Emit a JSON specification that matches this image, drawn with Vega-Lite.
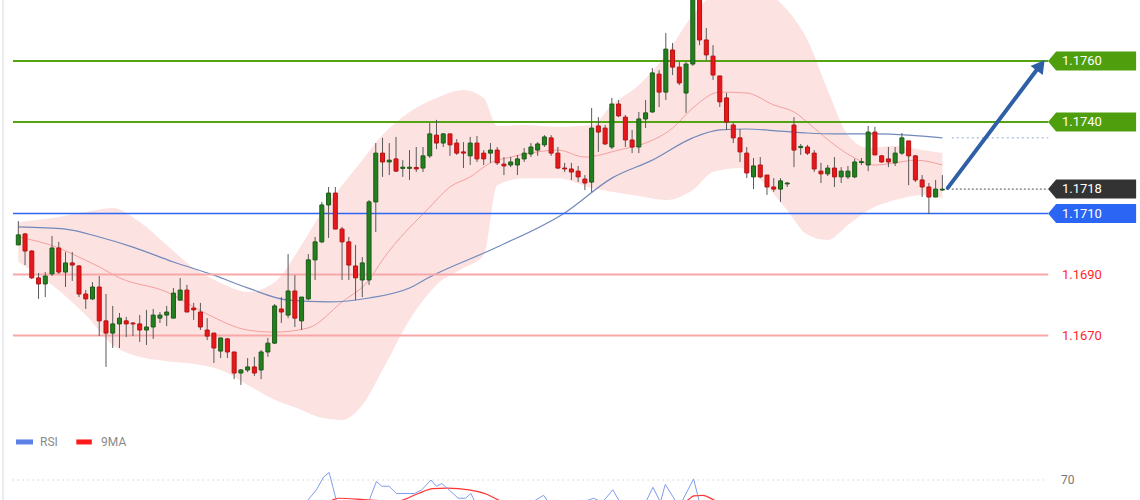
{
  "$schema": "https://vega.github.io/schema/vega-lite/v6.json",
  "background": "white",
  "padding": 0,
  "autosize": {"type": "none"},
  "width": 1140,
  "height": 500,
  "config": {"view": {"stroke": null}, "font": "Roboto", "scale": {"continuousPadding": 0}},
  "resolve": {"scale": {"y": "independent"}},
  "datasets": {
    "candles": [
      {"i":0,"o":1.16997,"h":1.17075,"l":1.16997,"c":1.17030},
      {"i":1,"o":1.17033,"h":1.17036,"l":1.16931,"c":1.16977},
      {"i":2,"o":1.16977,"h":1.16980,"l":1.16885,"c":1.16889},
      {"i":3,"o":1.16889,"h":1.16905,"l":1.16820,"c":1.16869},
      {"i":4,"o":1.16869,"h":1.16908,"l":1.16826,"c":1.16895},
      {"i":5,"o":1.16902,"h":1.17026,"l":1.16895,"c":1.16987},
      {"i":6,"o":1.16987,"h":1.17007,"l":1.16902,"c":1.16908},
      {"i":7,"o":1.16908,"h":1.16974,"l":1.16859,"c":1.16938},
      {"i":8,"o":1.16938,"h":1.16974,"l":1.16879,"c":1.16931},
      {"i":9,"o":1.16928,"h":1.16931,"l":1.16826,"c":1.16836},
      {"i":10,"o":1.16836,"h":1.16849,"l":1.16787,"c":1.16820},
      {"i":11,"o":1.16820,"h":1.16875,"l":1.16816,"c":1.16859},
      {"i":12,"o":1.16859,"h":1.16895,"l":1.16698,"c":1.16748},
      {"i":13,"o":1.16748,"h":1.16836,"l":1.16597,"c":1.16708},
      {"i":14,"o":1.16708,"h":1.16797,"l":1.16659,"c":1.16738},
      {"i":15,"o":1.16738,"h":1.16774,"l":1.16659,"c":1.16757},
      {"i":16,"o":1.16748,"h":1.16761,"l":1.16695,"c":1.16738},
      {"i":17,"o":1.16741,"h":1.16744,"l":1.16698,"c":1.16738},
      {"i":18,"o":1.16738,"h":1.16767,"l":1.16679,"c":1.16718},
      {"i":19,"o":1.16718,"h":1.16784,"l":1.16669,"c":1.16728},
      {"i":20,"o":1.16728,"h":1.16787,"l":1.16689,"c":1.16767},
      {"i":21,"o":1.16757,"h":1.16777,"l":1.16741,"c":1.16767},
      {"i":22,"o":1.16767,"h":1.16797,"l":1.16731,"c":1.16777},
      {"i":23,"o":1.16757,"h":1.16856,"l":1.16757,"c":1.16839},
      {"i":24,"o":1.16816,"h":1.16889,"l":1.16816,"c":1.16849},
      {"i":25,"o":1.16849,"h":1.16866,"l":1.16777,"c":1.16777},
      {"i":26,"o":1.16790,"h":1.16807,"l":1.16751,"c":1.16784},
      {"i":27,"o":1.16777,"h":1.16807,"l":1.16718,"c":1.16728},
      {"i":28,"o":1.16718,"h":1.16757,"l":1.16685,"c":1.16698},
      {"i":29,"o":1.16708,"h":1.16708,"l":1.16610,"c":1.16659},
      {"i":30,"o":1.16649,"h":1.16692,"l":1.16626,"c":1.16692},
      {"i":31,"o":1.16689,"h":1.16692,"l":1.16626,"c":1.16646},
      {"i":32,"o":1.16646,"h":1.16646,"l":1.16557,"c":1.16577},
      {"i":33,"o":1.16577,"h":1.16590,"l":1.16538,"c":1.16587},
      {"i":34,"o":1.16587,"h":1.16626,"l":1.16580,"c":1.16597},
      {"i":35,"o":1.16597,"h":1.16630,"l":1.16567,"c":1.16577},
      {"i":36,"o":1.16587,"h":1.16652,"l":1.16557,"c":1.16646},
      {"i":37,"o":1.16646,"h":1.16692,"l":1.16630,"c":1.16675},
      {"i":38,"o":1.16675,"h":1.16803,"l":1.16672,"c":1.16797},
      {"i":39,"o":1.16787,"h":1.16826,"l":1.16741,"c":1.16777},
      {"i":40,"o":1.16767,"h":1.16967,"l":1.16757,"c":1.16846},
      {"i":41,"o":1.16846,"h":1.16898,"l":1.16728,"c":1.16757},
      {"i":42,"o":1.16748,"h":1.16826,"l":1.16718,"c":1.16826},
      {"i":43,"o":1.16820,"h":1.16967,"l":1.16816,"c":1.16948},
      {"i":44,"o":1.16948,"h":1.17023,"l":1.16882,"c":1.17007},
      {"i":45,"o":1.17007,"h":1.17138,"l":1.17003,"c":1.17128},
      {"i":46,"o":1.17128,"h":1.17187,"l":1.17020,"c":1.17167},
      {"i":47,"o":1.17167,"h":1.17187,"l":1.17049,"c":1.17049},
      {"i":48,"o":1.17049,"h":1.17056,"l":1.16882,"c":1.17007},
      {"i":49,"o":1.17007,"h":1.17023,"l":1.16882,"c":1.16931},
      {"i":50,"o":1.16928,"h":1.16997,"l":1.16816,"c":1.16889},
      {"i":51,"o":1.16882,"h":1.16957,"l":1.16826,"c":1.16938},
      {"i":52,"o":1.16882,"h":1.17144,"l":1.16866,"c":1.17138},
      {"i":53,"o":1.17138,"h":1.17331,"l":1.17039,"c":1.17298},
      {"i":54,"o":1.17298,"h":1.17348,"l":1.17220,"c":1.17269},
      {"i":55,"o":1.17269,"h":1.17331,"l":1.17226,"c":1.17275},
      {"i":56,"o":1.17279,"h":1.17351,"l":1.17236,"c":1.17239},
      {"i":57,"o":1.17248,"h":1.17275,"l":1.17220,"c":1.17252},
      {"i":58,"o":1.17248,"h":1.17308,"l":1.17210,"c":1.17252},
      {"i":59,"o":1.17251,"h":1.17318,"l":1.17236,"c":1.17246},
      {"i":60,"o":1.17249,"h":1.17318,"l":1.17236,"c":1.17289},
      {"i":61,"o":1.17289,"h":1.17397,"l":1.17282,"c":1.17361},
      {"i":62,"o":1.17357,"h":1.17407,"l":1.17311,"c":1.17331},
      {"i":63,"o":1.17331,"h":1.17364,"l":1.17318,"c":1.17361},
      {"i":64,"o":1.17361,"h":1.17361,"l":1.17289,"c":1.17325},
      {"i":65,"o":1.17331,"h":1.17344,"l":1.17292,"c":1.17298},
      {"i":66,"o":1.17302,"h":1.17334,"l":1.17249,"c":1.17298},
      {"i":67,"o":1.17289,"h":1.17351,"l":1.17259,"c":1.17331},
      {"i":68,"o":1.17331,"h":1.17354,"l":1.17269,"c":1.17279},
      {"i":69,"o":1.17298,"h":1.17308,"l":1.17259,"c":1.17279},
      {"i":70,"o":1.17298,"h":1.17331,"l":1.17266,"c":1.17308},
      {"i":71,"o":1.17308,"h":1.17318,"l":1.17259,"c":1.17266},
      {"i":72,"o":1.17262,"h":1.17285,"l":1.17226,"c":1.17256},
      {"i":73,"o":1.17259,"h":1.17285,"l":1.17252,"c":1.17269},
      {"i":74,"o":1.17259,"h":1.17292,"l":1.17226,"c":1.17279},
      {"i":75,"o":1.17279,"h":1.17315,"l":1.17269,"c":1.17298},
      {"i":76,"o":1.17295,"h":1.17331,"l":1.17285,"c":1.17318},
      {"i":77,"o":1.17308,"h":1.17334,"l":1.17289,"c":1.17328},
      {"i":78,"o":1.17325,"h":1.17357,"l":1.17318,"c":1.17351},
      {"i":79,"o":1.17348,"h":1.17357,"l":1.17289,"c":1.17298},
      {"i":80,"o":1.17298,"h":1.17318,"l":1.17246,"c":1.17249},
      {"i":81,"o":1.17249,"h":1.17266,"l":1.17236,"c":1.17246},
      {"i":82,"o":1.17246,"h":1.17266,"l":1.17210,"c":1.17236},
      {"i":83,"o":1.17239,"h":1.17256,"l":1.17203,"c":1.17220},
      {"i":84,"o":1.17213,"h":1.17226,"l":1.17177,"c":1.17200},
      {"i":85,"o":1.17203,"h":1.17446,"l":1.17171,"c":1.17380},
      {"i":86,"o":1.17387,"h":1.17416,"l":1.17302,"c":1.17367},
      {"i":87,"o":1.17380,"h":1.17390,"l":1.17325,"c":1.17328},
      {"i":88,"o":1.17318,"h":1.17479,"l":1.17311,"c":1.17459},
      {"i":89,"o":1.17459,"h":1.17472,"l":1.17416,"c":1.17420},
      {"i":90,"o":1.17416,"h":1.17423,"l":1.17318,"c":1.17341},
      {"i":91,"o":1.17341,"h":1.17374,"l":1.17298,"c":1.17318},
      {"i":92,"o":1.17318,"h":1.17433,"l":1.17298,"c":1.17410},
      {"i":93,"o":1.17410,"h":1.17472,"l":1.17380,"c":1.17430},
      {"i":94,"o":1.17433,"h":1.17577,"l":1.17430,"c":1.17561},
      {"i":95,"o":1.17557,"h":1.17570,"l":1.17449,"c":1.17498},
      {"i":96,"o":1.17498,"h":1.17692,"l":1.17472,"c":1.17639},
      {"i":97,"o":1.17636,"h":1.17659,"l":1.17554,"c":1.17580},
      {"i":98,"o":1.17580,"h":1.17597,"l":1.17521,"c":1.17528},
      {"i":99,"o":1.17495,"h":1.17597,"l":1.17430,"c":1.17590},
      {"i":100,"o":1.17590,"h":1.17840,"l":1.17584,"c":1.17812},
      {"i":101,"o":1.17810,"h":1.17830,"l":1.17652,"c":1.17669},
      {"i":102,"o":1.17669,"h":1.17708,"l":1.17603,"c":1.17620},
      {"i":103,"o":1.17616,"h":1.17652,"l":1.17538,"c":1.17554},
      {"i":104,"o":1.17551,"h":1.17551,"l":1.17449,"c":1.17466},
      {"i":105,"o":1.17479,"h":1.17495,"l":1.17374,"c":1.17400},
      {"i":106,"o":1.17390,"h":1.17397,"l":1.17331,"c":1.17348},
      {"i":107,"o":1.17348,"h":1.17377,"l":1.17269,"c":1.17302},
      {"i":108,"o":1.17298,"h":1.17318,"l":1.17216,"c":1.17233},
      {"i":109,"o":1.17220,"h":1.17282,"l":1.17180,"c":1.17256},
      {"i":110,"o":1.17259,"h":1.17285,"l":1.17216,"c":1.17220},
      {"i":111,"o":1.17226,"h":1.17226,"l":1.17161,"c":1.17187},
      {"i":112,"o":1.17187,"h":1.17216,"l":1.17171,"c":1.17180},
      {"i":113,"o":1.17180,"h":1.17216,"l":1.17138,"c":1.17207},
      {"i":114,"o":1.17197,"h":1.17203,"l":1.17187,"c":1.17200},
      {"i":115,"o":1.17390,"h":1.17416,"l":1.17252,"c":1.17308},
      {"i":116,"o":1.17316,"h":1.17328,"l":1.17292,"c":1.17320},
      {"i":117,"o":1.17318,"h":1.17325,"l":1.17292,"c":1.17298},
      {"i":118,"o":1.17298,"h":1.17308,"l":1.17236,"c":1.17246},
      {"i":119,"o":1.17239,"h":1.17266,"l":1.17200,"c":1.17230},
      {"i":120,"o":1.17230,"h":1.17259,"l":1.17223,"c":1.17249},
      {"i":121,"o":1.17249,"h":1.17285,"l":1.17187,"c":1.17220},
      {"i":122,"o":1.17220,"h":1.17252,"l":1.17200,"c":1.17239},
      {"i":123,"o":1.17220,"h":1.17256,"l":1.17213,"c":1.17239},
      {"i":124,"o":1.17220,"h":1.17279,"l":1.17216,"c":1.17269},
      {"i":125,"o":1.17267,"h":1.17282,"l":1.17259,"c":1.17270},
      {"i":126,"o":1.17259,"h":1.17387,"l":1.17239,"c":1.17367},
      {"i":127,"o":1.17367,"h":1.17384,"l":1.17292,"c":1.17292},
      {"i":128,"o":1.17289,"h":1.17292,"l":1.17266,"c":1.17269},
      {"i":129,"o":1.17279,"h":1.17318,"l":1.17252,"c":1.17269},
      {"i":130,"o":1.17266,"h":1.17318,"l":1.17256,"c":1.17298},
      {"i":131,"o":1.17298,"h":1.17364,"l":1.17292,"c":1.17348},
      {"i":132,"o":1.17338,"h":1.17338,"l":1.17193,"c":1.17289},
      {"i":133,"o":1.17289,"h":1.17292,"l":1.17203,"c":1.17210},
      {"i":134,"o":1.17210,"h":1.17226,"l":1.17154,"c":1.17187},
      {"i":135,"o":1.17187,"h":1.17200,"l":1.17098,"c":1.17154},
      {"i":136,"o":1.17154,"h":1.17210,"l":1.17154,"c":1.17180},
      {"i":137,"o":1.17177,"h":1.17226,"l":1.17174,"c":1.17180}
    ],
    "bands": [
      {"i":0,"u":1.17072,"l":1.16941},{"i":5,"u":1.17085,"l":1.16866},{"i":10,"u":1.17105,"l":1.16767},
      {"i":14,"u":1.17118,"l":1.16669},{"i":18,"u":1.17072,"l":1.16630},{"i":22,"u":1.16997,"l":1.16616},
      {"i":26,"u":1.16921,"l":1.16607},{"i":30,"u":1.16872,"l":1.16587},{"i":34,"u":1.16843,"l":1.16538},
      {"i":38,"u":1.16875,"l":1.16489},{"i":42,"u":1.16997,"l":1.16456},{"i":45,"u":1.17105,"l":1.16430},
      {"i":48,"u":1.17193,"l":1.16423},{"i":51,"u":1.17275,"l":1.16472},{"i":54,"u":1.17357,"l":1.16587},
      {"i":58,"u":1.17433,"l":1.16751},{"i":62,"u":1.17479,"l":1.16866},{"i":66,"u":1.17505,"l":1.16921},
      {"i":69,"u":1.17479,"l":1.16964},{"i":71,"u":1.17387,"l":1.17193},{"i":75,"u":1.17390,"l":1.17216},
      {"i":80,"u":1.17384,"l":1.17216},{"i":85,"u":1.17390,"l":1.17184},{"i":88,"u":1.17456,"l":1.17171},
      {"i":92,"u":1.17521,"l":1.17157},{"i":96,"u":1.17620,"l":1.17144},{"i":100,"u":1.17751,"l":1.17177},
      {"i":103,"u":1.17816,"l":1.17236},{"i":107,"u":1.17839,"l":1.17249},{"i":110,"u":1.17833,"l":1.17210},
      {"i":114,"u":1.17767,"l":1.17111},{"i":117,"u":1.17669,"l":1.17030},{"i":120,"u":1.17505,"l":1.17013},
      {"i":123,"u":1.17357,"l":1.17062},{"i":126,"u":1.17315,"l":1.17111},{"i":130,"u":1.17321,"l":1.17144},
      {"i":134,"u":1.17308,"l":1.17161},{"i":137,"u":1.17298,"l":1.17151}
    ],
    "mid": [
      {"i":0,"v":1.17023},{"i":6,"v":1.16987},{"i":9,"v":1.16957},{"i":12,"v":1.16925},{"i":15,"v":1.16889},
      {"i":22,"v":1.16843},{"i":28,"v":1.16770},{"i":34,"v":1.16718},{"i":38,"v":1.16711},{"i":43,"v":1.16725},
      {"i":48,"v":1.16810},{"i":52,"v":1.16882},{"i":54,"v":1.16948},{"i":61,"v":1.17121},{"i":64,"v":1.17187},
      {"i":67,"v":1.17220},{"i":70,"v":1.17266},{"i":73,"v":1.17285},{"i":77,"v":1.17302},{"i":80,"v":1.17308},
      {"i":84,"v":1.17285},{"i":89,"v":1.17308},{"i":93,"v":1.17331},{"i":97,"v":1.17380},{"i":100,"v":1.17446},
      {"i":104,"v":1.17498},{"i":108,"v":1.17495},{"i":112,"v":1.17456},{"i":115,"v":1.17433},{"i":118,"v":1.17380},
      {"i":121,"v":1.17325},{"i":124,"v":1.17282},{"i":127,"v":1.17259},{"i":130,"v":1.17266},{"i":133,"v":1.17275},
      {"i":137,"v":1.17259}
    ],
    "ma": [
      {"i":0,"v":1.17056},{"i":7,"v":1.17049},{"i":12,"v":1.17023},{"i":17,"v":1.16990},{"i":23,"v":1.16941},
      {"i":29,"v":1.16898},{"i":34,"v":1.16856},{"i":40,"v":1.16816},{"i":46,"v":1.16810},{"i":52,"v":1.16823},
      {"i":58,"v":1.16856},{"i":61,"v":1.16892},{"i":71,"v":1.16990},{"i":81,"v":1.17102},{"i":88,"v":1.17216},
      {"i":94,"v":1.17275},{"i":100,"v":1.17348},{"i":104,"v":1.17374},{"i":108,"v":1.17377},{"i":113,"v":1.17370},
      {"i":117,"v":1.17364},{"i":121,"v":1.17361},{"i":127,"v":1.17361},{"i":132,"v":1.17357},{"i":137,"v":1.17348}
    ],
    "levels": [
      {"price":1.176,"label":"1.1760","type":"resistance"},
      {"price":1.174,"label":"1.1740","type":"resistance"},
      {"price":1.1718,"label":"1.1718","type":"last"},
      {"price":1.171,"label":"1.1710","type":"support"},
      {"price":1.169,"label":"1.1690","type":"minor"},
      {"price":1.167,"label":"1.1670","type":"minor"}
    ],
    "arrow": [{"i1":137.8,"p1":1.17184,"i2":151.2,"p2":1.17577,"hi":151.57,"hp":1.17586}],
    "rsi": [
      {"i":0,"v":40},{"i":20,"v":30},{"i":30,"v":38},{"i":40,"v":45},{"i":42.85,"v":52.7},{"i":44.2,"v":61.8},
      {"i":45.26,"v":72.4},{"i":46.08,"v":76.3},{"i":46.61,"v":64.8},{"i":47.16,"v":52.7},{"i":49.5,"v":47},
      {"i":52.0,"v":52.7},{"i":53.09,"v":68.75},{"i":53.89,"v":64.8},{"i":54.97,"v":64.8},{"i":56.06,"v":58.75},
      {"i":58.74,"v":58.75},{"i":59.82,"v":61.8},{"i":61.17,"v":70},{"i":61.99,"v":64.8},{"i":62.79,"v":67},
      {"i":63.87,"v":61.8},{"i":65.22,"v":54.8},{"i":66.3,"v":54.8},{"i":67.1,"v":58.75},{"i":67.64,"v":52.7},
      {"i":71,"v":44},{"i":75,"v":47},{"i":76.53,"v":52.7},{"i":77.88,"v":57.25},{"i":78.43,"v":52.7},
      {"i":81,"v":45},{"i":84.23,"v":52.7},{"i":85.29,"v":54.8},{"i":86.6,"v":51.5},{"i":88.15,"v":61.8},
      {"i":89.07,"v":52.7},{"i":91,"v":47},{"i":93.12,"v":52.7},{"i":94.09,"v":63.9},{"i":95.2,"v":51.5},
      {"i":95.92,"v":66.3},{"i":97.43,"v":52.7},{"i":98.2,"v":50},{"i":100.12,"v":70.9},{"i":100.93,"v":52.7},
      {"i":103,"v":44},{"i":108,"v":35},{"i":112,"v":30},{"i":116,"v":42},{"i":120,"v":36},{"i":126,"v":45},
      {"i":131,"v":47},{"i":135,"v":38},{"i":137,"v":42}
    ],
    "ma9": [
      {"i":0,"v":45},{"i":20,"v":35},{"i":35,"v":40},{"i":44,"v":50},{"i":46.35,"v":52.7},{"i":47.43,"v":54.8},
      {"i":51.19,"v":53.7},{"i":53.89,"v":52.7},{"i":55.2,"v":52},{"i":56.59,"v":52.7},{"i":59.29,"v":58.75},
      {"i":61.44,"v":62.75},{"i":63.6,"v":63.3},{"i":66.84,"v":61.8},{"i":69.53,"v":57.9},{"i":71.42,"v":52.7},
      {"i":76,"v":48},{"i":82,"v":46},{"i":90,"v":49},{"i":96,"v":51},{"i":99.05,"v":52.7},{"i":100.12,"v":56.7},
      {"i":101.47,"v":57.25},{"i":103.36,"v":52.7},{"i":108,"v":46},{"i":115,"v":40},{"i":125,"v":41},{"i":137,"v":42}
    ]
  },
  "layer": [
    {
      "data": {"name": "bands"},
      "mark": {"type": "area", "interpolate": "monotone", "color": "#fde2e2", "clip": true},
      "encoding": {
        "x": {"field": "i", "type": "quantitative", "scale": {"domain": [-2.713, 166.3], "nice": false, "zero": false, "padding": 0}, "axis": null},
        "y": {"field": "u", "type": "quantitative", "scale": {"domain": [1.161607, 1.178], "nice": false, "zero": false}, "axis": null},
        "y2": {"field": "l"}
      }
    },
    {
      "data": {"name": "mid"},
      "mark": {"type": "line", "interpolate": "monotone", "color": "#f4a09c", "strokeWidth": 1, "clip": true},
      "encoding": {
        "x": {"field": "i", "type": "quantitative", "scale": {"domain": [-2.713, 166.3], "nice": false, "zero": false, "padding": 0}, "axis": null},
        "y": {"field": "v", "type": "quantitative", "scale": {"domain": [1.161607, 1.178], "nice": false, "zero": false}, "axis": null}
      }
    },
    {
      "data": {"name": "ma"},
      "mark": {"type": "line", "interpolate": "monotone", "color": "#7189bb", "strokeWidth": 1.2, "clip": true},
      "encoding": {
        "x": {"field": "i", "type": "quantitative", "scale": {"domain": [-2.713, 166.3], "nice": false, "zero": false, "padding": 0}, "axis": null},
        "y": {"field": "v", "type": "quantitative", "scale": {"domain": [1.161607, 1.178], "nice": false, "zero": false}, "axis": null}
      }
    },
    {
      "data": {"name": "levels"},
      "transform": [{"filter": "datum.type == 'minor'"}],
      "mark": {"type": "rule", "color": "#f7a7a7", "strokeWidth": 2},
      "encoding": {
        "x": {"datum": -0.79, "type": "quantitative", "scale": {"domain": [-2.713, 166.3], "nice": false, "zero": false, "padding": 0}, "axis": null},
        "x2": {"datum": 152.7},
        "y": {"field": "price", "type": "quantitative", "scale": {"domain": [1.161607, 1.178], "nice": false, "zero": false}, "axis": null}
      }
    },
    {
      "data": {"name": "levels"},
      "transform": [{"filter": "datum.type == 'resistance'"}],
      "mark": {"type": "rule", "color": "#55a313", "strokeWidth": 2.2},
      "encoding": {
        "x": {"datum": -0.79, "type": "quantitative", "scale": {"domain": [-2.713, 166.3], "nice": false, "zero": false, "padding": 0}, "axis": null},
        "x2": {"datum": 152.7},
        "y": {"field": "price", "type": "quantitative", "scale": {"domain": [1.161607, 1.178], "nice": false, "zero": false}, "axis": null}
      }
    },
    {
      "data": {"name": "levels"},
      "transform": [{"filter": "datum.type == 'support'"}],
      "mark": {"type": "rule", "color": "#2f66f2", "strokeWidth": 1.3},
      "encoding": {
        "x": {"datum": -0.79, "type": "quantitative", "scale": {"domain": [-2.713, 166.3], "nice": false, "zero": false, "padding": 0}, "axis": null},
        "x2": {"datum": 152.7},
        "y": {"field": "price", "type": "quantitative", "scale": {"domain": [1.161607, 1.178], "nice": false, "zero": false}, "axis": null}
      }
    },
    {
      "data": {"name": "levels"},
      "transform": [{"filter": "datum.type == 'last'"}],
      "mark": {"type": "rule", "color": "#555555", "strokeWidth": 1, "strokeDash": [2, 2]},
      "encoding": {
        "x": {"datum": 138.4, "type": "quantitative", "scale": {"domain": [-2.713, 166.3], "nice": false, "zero": false, "padding": 0}, "axis": null},
        "x2": {"datum": 152.7},
        "y": {"field": "price", "type": "quantitative", "scale": {"domain": [1.161607, 1.178], "nice": false, "zero": false}, "axis": null}
      }
    },
    {
      "data": {"values": [{}]},
      "mark": {"type": "rule", "color": "#8ea7d6", "strokeWidth": 1, "strokeDash": [2, 3]},
      "encoding": {
        "x": {"datum": 138.4, "type": "quantitative", "scale": {"domain": [-2.713, 166.3], "nice": false, "zero": false, "padding": 0}, "axis": null},
        "x2": {"datum": 152.7},
        "y": {"datum": 1.17348, "type": "quantitative", "scale": {"domain": [1.161607, 1.178], "nice": false, "zero": false}, "axis": null}
      }
    },
    {
      "data": {"values": [{}]},
      "mark": {"type": "rule", "color": "#e1e6ed", "strokeWidth": 1.5},
      "encoding": {
        "x": {"datum": -2.27, "type": "quantitative", "scale": {"domain": [-2.713, 166.3], "nice": false, "zero": false, "padding": 0}, "axis": null}
      }
    },
    {
      "data": {"name": "candles"},
      "mark": {"type": "rule", "color": "#595959", "strokeWidth": 1, "clip": true},
      "encoding": {
        "x": {"field": "i", "type": "quantitative", "scale": {"domain": [-2.713, 166.3], "nice": false, "zero": false, "padding": 0}, "axis": null},
        "y": {"field": "h", "type": "quantitative", "scale": {"domain": [1.161607, 1.178], "nice": false, "zero": false}, "axis": null},
        "y2": {"field": "l"}
      }
    },
    {
      "data": {"name": "candles"},
      "mark": {"type": "bar", "size": 4, "strokeWidth": 1, "clip": true},
      "encoding": {
        "x": {"field": "i", "type": "quantitative", "scale": {"domain": [-2.713, 166.3], "nice": false, "zero": false, "padding": 0}, "axis": null},
        "y": {"field": "o", "type": "quantitative", "scale": {"domain": [1.161607, 1.178], "nice": false, "zero": false}, "axis": null},
        "y2": {"field": "c"},
        "color": {"condition": {"test": "datum.c >= datum.o", "value": "#22801f"}, "value": "#e8171c"},
        "stroke": {"condition": {"test": "datum.c >= datum.o", "value": "#1a5a16"}, "value": "#b41311"}
      }
    },
    {
      "data": {"name": "arrow"},
      "mark": {"type": "rule", "color": "#2f5fa6", "strokeWidth": 4, "strokeCap": "round"},
      "encoding": {
        "x": {"field": "i1", "type": "quantitative", "scale": {"domain": [-2.713, 166.3], "nice": false, "zero": false, "padding": 0}, "axis": null},
        "x2": {"field": "i2"},
        "y": {"field": "p1", "type": "quantitative", "scale": {"domain": [1.161607, 1.178], "nice": false, "zero": false}, "axis": null},
        "y2": {"field": "p2"}
      }
    },
    {
      "data": {"name": "arrow"},
      "mark": {"type": "point", "shape": "triangle-up", "filled": true, "opacity": 1, "size": 230, "angle": 37, "color": "#2f5fa6"},
      "encoding": {
        "x": {"field": "hi", "type": "quantitative", "scale": {"domain": [-2.713, 166.3], "nice": false, "zero": false, "padding": 0}, "axis": null},
        "y": {"field": "hp", "type": "quantitative", "scale": {"domain": [1.161607, 1.178], "nice": false, "zero": false}, "axis": null}
      }
    },
    {
      "data": {"name": "levels"},
      "transform": [{"filter": "datum.type != 'minor'"}],
      "mark": {"type": "point", "shape": "M-44,0L-36,-9.5L44,-9.5L44,9.5L-36,9.5Z", "size": 4, "filled": true, "opacity": 1, "strokeWidth": 0},
      "encoding": {
        "x": {"datum": 159.2, "type": "quantitative", "scale": {"domain": [-2.713, 166.3], "nice": false, "zero": false, "padding": 0}, "axis": null},
        "y": {"field": "price", "type": "quantitative", "scale": {"domain": [1.161607, 1.178], "nice": false, "zero": false}, "axis": null},
        "color": {"field": "type", "type": "nominal", "scale": {"domain": ["resistance", "last", "support"], "range": ["#4f9e0d", "#333333", "#2b65f4"]}, "legend": null}
      }
    },
    {
      "data": {"name": "levels"},
      "transform": [{"filter": "datum.type != 'minor'"}],
      "mark": {"type": "text", "align": "left", "baseline": "middle", "fontSize": 13, "color": "#ffffff", "font": "Roboto"},
      "encoding": {
        "x": {"datum": 154.73, "type": "quantitative", "scale": {"domain": [-2.713, 166.3], "nice": false, "zero": false, "padding": 0}, "axis": null},
        "y": {"field": "price", "type": "quantitative", "scale": {"domain": [1.161607, 1.178], "nice": false, "zero": false}, "axis": null},
        "text": {"field": "label"}
      }
    },
    {
      "data": {"name": "levels"},
      "transform": [{"filter": "datum.type == 'minor'"}],
      "mark": {"type": "text", "align": "left", "baseline": "middle", "fontSize": 13, "color": "#ff1f1f", "font": "Roboto"},
      "encoding": {
        "x": {"datum": 154.73, "type": "quantitative", "scale": {"domain": [-2.713, 166.3], "nice": false, "zero": false, "padding": 0}, "axis": null},
        "y": {"field": "price", "type": "quantitative", "scale": {"domain": [1.161607, 1.178], "nice": false, "zero": false}, "axis": null},
        "text": {"field": "label"}
      }
    },
    {
      "data": {"values": [{}]},
      "mark": {"type": "rule", "color": "#bdbdbd", "strokeWidth": 1, "strokeDash": [1, 4]},
      "encoding": {
        "x": {"datum": -0.83, "type": "quantitative", "scale": {"domain": [-2.713, 166.3], "nice": false, "zero": false, "padding": 0}, "axis": null},
        "x2": {"datum": 152.2},
        "y": {"datum": 70, "type": "quantitative", "scale": {"domain": [53.333, 470], "nice": false, "zero": false}, "axis": null}
      }
    },
    {
      "data": {"values": [{}]},
      "mark": {"type": "text", "align": "left", "baseline": "middle", "fontSize": 12, "color": "#777777", "font": "Roboto"},
      "encoding": {
        "x": {"datum": 154.6, "type": "quantitative", "scale": {"domain": [-2.713, 166.3], "nice": false, "zero": false, "padding": 0}, "axis": null},
        "y": {"datum": 70, "type": "quantitative", "scale": {"domain": [53.333, 470], "nice": false, "zero": false}, "axis": null},
        "text": {"value": "70"}
      }
    },
    {
      "data": {"name": "ma9"},
      "mark": {"type": "line", "color": "#ff3434", "strokeWidth": 1.2, "clip": true, "interpolate": "monotone"},
      "encoding": {
        "x": {"field": "i", "type": "quantitative", "scale": {"domain": [-2.713, 166.3], "nice": false, "zero": false, "padding": 0}, "axis": null},
        "y": {"field": "v", "type": "quantitative", "scale": {"domain": [53.333, 470], "nice": false, "zero": false}, "axis": null}
      }
    },
    {
      "data": {"name": "rsi"},
      "mark": {"type": "line", "color": "#7f9ded", "strokeWidth": 1, "clip": true},
      "encoding": {
        "x": {"field": "i", "type": "quantitative", "scale": {"domain": [-2.713, 166.3], "nice": false, "zero": false, "padding": 0}, "axis": null},
        "y": {"field": "v", "type": "quantitative", "scale": {"domain": [53.333, 470], "nice": false, "zero": false}, "axis": null}
      }
    },
    {
      "data": {"values": [{}]},
      "mark": {"type": "rule", "color": "#5b80e6", "strokeWidth": 5},
      "encoding": {
        "x": {"datum": -0.34, "type": "quantitative", "scale": {"domain": [-2.713, 166.3], "nice": false, "zero": false, "padding": 0}, "axis": null},
        "x2": {"datum": 2.18},
        "y": {"datum": 101.7, "type": "quantitative", "scale": {"domain": [53.333, 470], "nice": false, "zero": false}, "axis": null}
      }
    },
    {
      "data": {"values": [{}]},
      "mark": {"type": "rule", "color": "#ff1a1a", "strokeWidth": 5},
      "encoding": {
        "x": {"datum": 8.6, "type": "quantitative", "scale": {"domain": [-2.713, 166.3], "nice": false, "zero": false, "padding": 0}, "axis": null},
        "x2": {"datum": 10.9},
        "y": {"datum": 101.7, "type": "quantitative", "scale": {"domain": [53.333, 470], "nice": false, "zero": false}, "axis": null}
      }
    },
    {
      "data": {"values": [{"name": "RSI", "at": 3.22}, {"name": "9MA", "at": 12.27}]},
      "mark": {"type": "text", "align": "left", "baseline": "middle", "fontSize": 12, "color": "#8a8a8a", "font": "Roboto"},
      "encoding": {
        "x": {"field": "at", "type": "quantitative", "scale": {"domain": [-2.713, 166.3], "nice": false, "zero": false, "padding": 0}, "axis": null},
        "y": {"datum": 101.7, "type": "quantitative", "scale": {"domain": [53.333, 470], "nice": false, "zero": false}, "axis": null},
        "text": {"field": "name"}
      }
    }
  ]
}
